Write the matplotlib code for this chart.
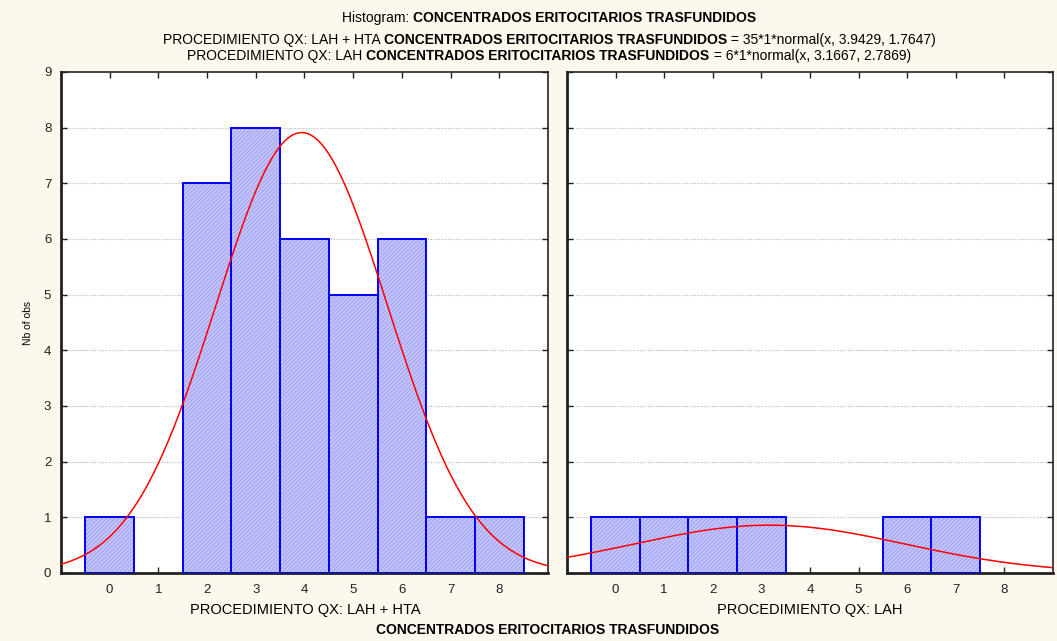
import numpy as np
import matplotlib.pyplot as plt

plt.rcParams['font.family'] = ['Liberation Sans', 'DejaVu Sans']
plt.rcParams['hatch.linewidth'] = 0.6

# histogram data (bin centers and counts)
bins = [0, 1, 2, 3, 4, 5, 6, 7, 8]
counts_lah_hta = [1, 0, 7, 8, 6, 5, 6, 1, 1]
counts_lah = [1, 1, 1, 1, 0, 0, 1, 1, 0]

# fitted normal parameters (n, mean, sd) from the titles
fit_lah_hta = (35, 3.9429, 1.7647)
fit_lah = (6, 3.1667, 2.7869)

panel_labels = ["PROCEDIMIENTO QX: LAH + HTA", "PROCEDIMIENTO QX: LAH"]
var_name = "CONCENTRADOS ERITOCITARIOS TRASFUNDIDOS"

bg = '#fdf8ee'
W, H = 1057, 641
fig = plt.figure(figsize=(W / 100, H / 100), dpi=100, facecolor=bg)

ax1 = fig.add_axes([0.0577, 0.1061, 0.4607, 0.7816])
ax2 = fig.add_axes([0.5364, 0.1061, 0.4598, 0.7816])


def normal(x, n, mu, sd):
    return n * np.exp(-0.5 * ((x - mu) / sd) ** 2) / (sd * np.sqrt(2 * np.pi))


for ax, counts, fit, lab, cx in [(ax1, counts_lah_hta, fit_lah_hta, panel_labels[0], 305),
                                  (ax2, counts_lah, fit_lah, panel_labels[1], 810)]:
    ax.set_facecolor('white')
    ax.set_xlim(-1, 9)
    ax.set_ylim(0, 9)
    for y in range(1, 9):
        ax.axhline(y, color='#b0b0b0', lw=0.8, ls=(0, (1, 1.5)), zorder=0)
    xb = [b for b, c in zip(bins, counts) if c > 0]
    cb = [c for c in counts if c > 0]
    ax.bar(xb, cb, width=1.0, color='#c4c4ff', hatch='////////',
           edgecolor='#9c9cec', linewidth=0, zorder=2)
    ax.bar(xb, cb, width=1.0, fill=False, edgecolor='#0000ff',
           linewidth=1.4, zorder=3)
    xs = np.linspace(-1, 9, 400)
    ax.plot(xs, normal(xs, *fit), color='red', lw=1.1, zorder=4)
    ax.set_xticks(bins)
    ax.set_yticks(range(0, 10))
    ax.tick_params(direction='in', length=4, width=1, top=True, right=True,
                   labelsize=9.5, colors='#222222')
    ax.tick_params(axis='x', pad=8)
    ax.tick_params(axis='y', pad=7)
    for s in ax.spines.values():
        s.set_color('#222222')
        s.set_linewidth(1.2)
    ax.spines['left'].set_linewidth(2)
    ax.spines['bottom'].set_linewidth(2)
    fig.text(cx / W, 1 - 610 / H, lab, ha='center', va='center', fontsize=10.5)

ax2.tick_params(labelleft=False)
ax1.set_ylabel("Nb of obs", fontsize=7.5, labelpad=8)

fig.text(548 / W, 1 - 630 / H, var_name, ha='center', va='center',
         fontsize=10, fontweight='bold')


def mixed_line(y, parts, size):
    # draw a centered line made of (text, bold) pieces
    renderer = fig.canvas.get_renderer()
    texts = []
    for s, b in parts:
        t = fig.text(0, 1 - y / H, s, fontsize=size, va='center',
                     fontweight='bold' if b else 'normal')
        texts.append(t)
    widths = [t.get_window_extent(renderer).width for t in texts]
    x = 549 - sum(widths) / 2
    for t, w in zip(texts, widths):
        t.set_x(x / W)
        x += w


mixed_line(18, [("Histogram: ", False), (var_name, True)], 10)
mixed_line(40, [("PROCEDIMIENTO QX: LAH + HTA ", False), (var_name, True),
                (" = 35*1*normal(x, 3.9429, 1.7647)", False)], 10)
mixed_line(56, [("PROCEDIMIENTO QX: LAH ", False), (var_name, True),
                (" = 6*1*normal(x, 3.1667, 2.7869)", False)], 10)

fig.savefig('out.png', dpi=100, facecolor=bg)
